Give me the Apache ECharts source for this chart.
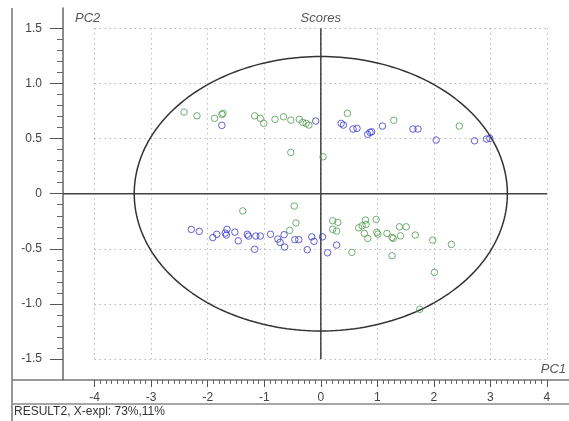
<!DOCTYPE html>
<html>
<head>
<meta charset="utf-8">
<script src="https://cdn.jsdelivr.net/npm/echarts@6/dist/echarts.min.js"></script>
<style>
html,body{margin:0;padding:0;background:#fff;}
#c{width:569px;height:421px;}
</style>
</head>
<body>
<div id="c"></div>
<script>
// ---- data ----
const xTickLabels = [-4, -3, -2, -1, 0, 1, 2, 3, 4];
const yTickLabels = [-1.5, -1.0, -0.5, 0, 0.5, 1.0, 1.5];
const ellipseRadii = [3.3, 1.245]; // PC1, PC2 half-axes
const greenUpper = [
  [-2.42,0.741],[-2.19,0.707],[-1.88,0.684],[-1.75,0.720],[-1.73,0.729],
  [-1.17,0.707],[-1.07,0.684],[-1.01,0.638],[-0.81,0.675],[-0.66,0.698],
  [-0.53,0.668],[-0.38,0.675],[-0.32,0.647],[-0.26,0.638],[-0.21,0.623],
  [-0.53,0.375],[0.04,0.335],[0.47,0.729],[1.29,0.666],[2.45,0.614]
];
const blueUpper = [
  [-1.75,0.620],[-0.09,0.659],[0.36,0.638],[0.40,0.623],[0.57,0.587],
  [0.64,0.593],[0.83,0.539],[0.87,0.557],[0.90,0.562],[1.09,0.614],
  [1.63,0.587],[1.72,0.587],[2.04,0.487],[2.72,0.480],[2.93,0.496],[2.99,0.502]
];
const blueLower = [
  [-2.29,-0.324],[-2.15,-0.342],[-1.91,-0.398],[-1.84,-0.368],[-1.69,-0.357],
  [-1.66,-0.323],[-1.67,-0.375],[-1.52,-0.348],[-1.46,-0.427],[-1.30,-0.368],
  [-1.28,-0.384],[-1.15,-0.384],[-1.07,-0.384],[-1.17,-0.504],[-0.89,-0.368],
  [-0.76,-0.411],[-0.72,-0.441],[-0.64,-0.484],[-0.65,-0.372],[-0.46,-0.417],
  [-0.39,-0.417],[-0.24,-0.508],[-0.16,-0.391],[-0.12,-0.432],[0.03,-0.391],
  [0.12,-0.536],[0.28,-0.466]
];
const greenLower = [
  [-1.38,-0.156],[-0.47,-0.112],[-0.44,-0.265],[-0.55,-0.333],[0.55,-0.532],
  [0.21,-0.245],[0.30,-0.260],[0.21,-0.323],[0.28,-0.339],[0.67,-0.309],
  [0.73,-0.291],[0.80,-0.278],[0.79,-0.239],[0.77,-0.360],[0.83,-0.405],
  [0.98,-0.233],[0.99,-0.351],[1.01,-0.366],[1.17,-0.360],[1.26,-0.396],
  [1.28,-0.405],[1.26,-0.563],[1.39,-0.300],[1.51,-0.300],[1.41,-0.382],
  [1.67,-0.375],[1.98,-0.421],[2.31,-0.460],[2.01,-0.714],[1.75,-1.049]
];

// ---- layout ----
const W = 569, H = 421;
const xMin = -4.56, xMax = 4.39, yMin = -1.69, yMax = 1.685;
const gL = 63, gR = 0, gT = 8, gB = 41;
const gW = W - gL - gR, gH = H - gT - gB;
const pxX = v => gL + (v - xMin) / (xMax - xMin) * gW;
const pxY = v => gT + (yMax - v) / (yMax - yMin) * gH;
const tx0 = xTickLabels[0], tx1 = xTickLabels[xTickLabels.length - 1];
const ty0 = yTickLabels[0], ty1 = yTickLabels[yTickLabels.length - 1];
const g1 = {
  left: pxX(tx0), right: W - pxX(tx1),
  top: pxY(ty1), bottom: H - pxY(ty0)
};

const ellipse = [];
for (let i = 0; i <= 240; i++) {
  const t = i / 240 * Math.PI * 2;
  ellipse.push([ellipseRadii[0] * Math.cos(t), ellipseRadii[1] * Math.sin(t)]);
}

const FONT = 'Liberation Sans, Arial, sans-serif';
const dotted = { color: '#959595', width: 1, type: [1, 4] };
const blue = '#3a3acc', green = '#4f9a4f';

function pts(data, color) {
  return {
    type: 'scatter', xAxisIndex: 0, yAxisIndex: 0, data: data,
    symbol: 'circle', symbolSize: 6.5, z: 5,
    itemStyle: { color: 'rgba(0,0,0,0)', borderColor: color, borderWidth: 1 }
  };
}

const chart = echarts.init(document.getElementById('c'), null, { renderer: 'canvas', width: W, height: H });
chart.setOption({
  animation: false,
  backgroundColor: '#fff',
  textStyle: { fontFamily: FONT },
  grid: [
    { left: gL, right: gR, top: gT, bottom: gB },
    { left: g1.left, right: g1.right, top: g1.top, bottom: g1.bottom }
  ],
  xAxis: [
    { gridIndex: 0, type: 'value', min: xMin, max: xMax,
      axisLine: { show: false, onZero: false }, axisTick: { show: false }, axisLabel: { show: false }, splitLine: { show: false } },
    { gridIndex: 1, type: 'value', min: tx0, max: tx1, interval: 1, position: 'bottom',
      offset: (H - gB) - pxY(ty0),
      axisLine: { show: false, onZero: false },
      axisTick: { show: true, length: 7, lineStyle: { color: '#555', width: 1 } },
      minorTick: { show: true, splitNumber: 10, length: 4, lineStyle: { color: '#666', width: 1 } },
      axisLabel: { color: '#444', fontSize: 12, margin: 12, fontFamily: FONT },
      splitLine: { show: true, lineStyle: dotted } }
  ],
  yAxis: [
    { gridIndex: 0, type: 'value', min: yMin, max: yMax,
      axisLine: { show: true, onZero: false, lineStyle: { color: '#666', width: 1.5 } },
      axisTick: { show: false }, axisLabel: { show: false }, splitLine: { show: false } },
    { gridIndex: 1, type: 'value', min: ty0, max: ty1, interval: 0.5, position: 'left',
      offset: pxX(tx0) - gL,
      axisLine: { show: false, onZero: false },
      axisTick: { show: true, length: 13, lineStyle: { color: '#555', width: 1 } },
      minorTick: { show: true, splitNumber: 5, length: 6, lineStyle: { color: '#666', width: 1 } },
      axisLabel: { color: '#444', fontSize: 12, margin: 21, fontFamily: FONT,
        formatter: v => Math.abs(v) < 1e-9 ? '0' : v.toFixed(1) },
      splitLine: { show: true, lineStyle: dotted } }
  ],
  series: [
    { type: 'line', xAxisIndex: 0, yAxisIndex: 0, data: [[xMin, 0], [tx1, 0]], symbol: 'none', z: 3,
      lineStyle: { color: '#444', width: 1.5 } },
    { type: 'line', xAxisIndex: 0, yAxisIndex: 0, data: [[0, ty0], [0, ty1]], symbol: 'none', z: 3,
      lineStyle: { color: '#444', width: 1.5 } },
    { type: 'line', xAxisIndex: 0, yAxisIndex: 0, data: ellipse, symbol: 'none', z: 3,
      lineStyle: { color: '#333', width: 1.5 } },
    pts(greenUpper, green), pts(greenLower, green),
    pts(blueUpper, blue), pts(blueLower, blue)
  ],
  graphic: [
    { type: 'line', shape: { x1: 12, y1: gT, x2: 12, y2: H }, style: { stroke: '#777', lineWidth: 1.5 }, silent: true },
    { type: 'line', shape: { x1: 12, y1: H - gB, x2: W, y2: H - gB }, style: { stroke: '#777', lineWidth: 1.5 }, silent: true },
    { type: 'line', shape: { x1: 12, y1: 404, x2: W, y2: 404 }, style: { stroke: '#888', lineWidth: 1.5 }, silent: true },
    { type: 'text', x: 75, y: 12, style: { text: 'PC2', fill: '#555', font: 'italic 13px ' + FONT } },
    { type: 'text', x: pxX(0), y: 12, style: { text: 'Scores', fill: '#555', font: 'italic 13px ' + FONT, textAlign: 'center' } },
    { type: 'text', x: 566, y: 363, style: { text: 'PC1', fill: '#555', font: 'italic 13px ' + FONT, textAlign: 'right' } },
    { type: 'text', x: 14, y: 406, style: { text: 'RESULT2, X-expl: 73%,11%', fill: '#333', font: '12px ' + FONT } }
  ]
});
</script>
</body>
</html>
